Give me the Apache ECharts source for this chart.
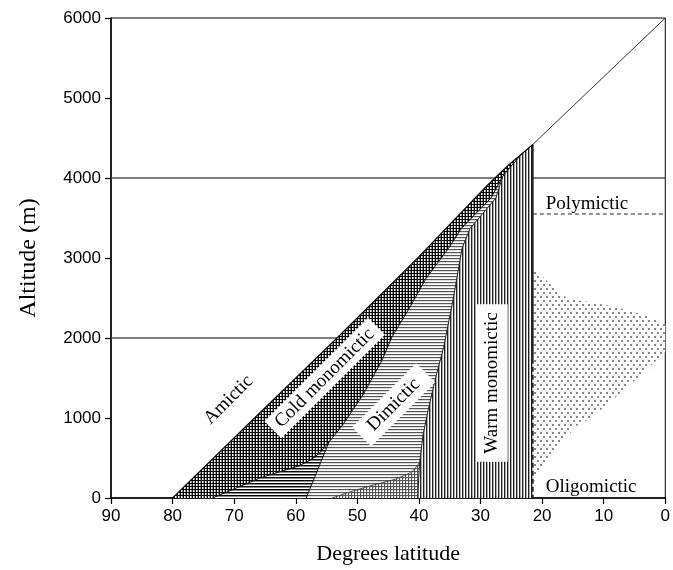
<!DOCTYPE html>
<html>
<head>
<meta charset="utf-8">
<script src="https://cdn.jsdelivr.net/npm/echarts@6/dist/echarts.min.js"></script>
<style>
  html, body { margin: 0; padding: 0; background: #fff; }
  #chart { width: 673px; height: 570px; }
</style>
</head>
<body>
<div id="chart"></div>
<script>
// ---- Zone boundaries, as [degrees latitude, altitude m] ----
// upper-left limit of lakes (latitude / altitude envelope)
const envelopeEdge = [[80, 0], [66.7, 1000], [53.3, 2000], [40.2, 3000], [34.6, 3450], [29.0, 3900], [25.5, 4160], [21.5, 4420]];
// cold monomictic / dimictic boundary
const coldDimicticEdge = [[58.3, 0], [54.6, 700], [52.5, 900], [49.0, 1300], [46.0, 1720], [44.4, 2010], [41.5, 2380], [38.8, 2750], [35.2, 3120], [33.1, 3370], [28.3, 3750], [26.6, 3990], [26.4, 4020], [25.0, 4150], [23.3, 4300], [21.5, 4420]];
// dimictic / warm monomictic boundary
const warmEdge = [[40.2, 0], [39.9, 440], [39.3, 800], [38.5, 1100], [37.3, 1500], [36.0, 1880], [34.4, 2500], [33.0, 3120], [31.7, 3370], [27.5, 3750], [26.4, 4020]];
// top of the low-altitude band under the cold zone
const lowerBandTop = [[73.5, 0], [69.5, 130], [65.9, 248], [62.5, 330], [59.5, 400], [57.5, 480], [56.2, 558], [54.6, 700]];
// top of the low-altitude patch under the dimictic zone
const gridPatchTop = [[54.1, 0], [51.0, 80], [48.0, 150], [43.8, 235], [41.2, 320], [39.9, 440]];
// oligomictic (stippled) zone outline
const oligoZone = [[21.5, 2880], [20.2, 2790], [18.6, 2665], [17.0, 2550], [15.4, 2480], [11.5, 2440], [7.8, 2380], [3.4, 2290], [0, 2170], [0, 1830], [2.5, 1640], [6.1, 1390], [8.5, 1230], [10.5, 1100], [12.5, 980], [14.7, 890], [15.5, 800], [17.5, 650], [19.6, 430], [21.0, 270], [21.5, 150]];

const tropicEdgeLat = 21.5;          // latitude of the vertical limit
const solidDashSplit = 1740;         // altitude where the vertical limit turns dashed
const polymicticLevel = 3550;        // dashed polymictic limit
const referenceLevels = [2000, 4000];
const topCorner = [0, 6000];

const zoneNames = ['Amictic', 'Cold monomictic', 'Dimictic', 'Warm monomictic', 'Polymictic', 'Oligomictic'];
const zoneNameAnchors = [[70.9, 1227], [55.3, 1500], [44.1, 1165], [28.1, 1438], [19.4, 3670], [19.4, 136]];
const zoneNameStyle = [
  { angle: 45, align: 'center', boxed: false },
  { angle: 45, align: 'center', boxed: true, pad: [3, 7, 2, 7] },
  { angle: 45, align: 'center', boxed: true, pad: [5, 12, 3, 12] },
  { angle: 90, align: 'center', boxed: true, pad: [7, 8, 5, 8] },
  { angle: 0, align: 'left', boxed: false },
  { angle: 0, align: 'left', boxed: false }
];

// ---- derived polygons ----
const peak = envelopeEdge[envelopeEdge.length - 1];
const sameP = (a, b) => a[0] === b[0] && a[1] === b[1];
const jIdx = coldDimicticEdge.findIndex(p => sameP(p, lowerBandTop[lowerBandTop.length - 1]));
const mIdx = coldDimicticEdge.findIndex(p => sameP(p, warmEdge[warmEdge.length - 1]));

const zoneA = [...envelopeEdge, ...coldDimicticEdge.slice(jIdx, -1).reverse(), ...lowerBandTop.slice(0, -1).reverse()];
const zoneC = [...lowerBandTop, ...coldDimicticEdge.slice(0, jIdx).reverse()];
const zoneD = [...coldDimicticEdge.slice(0, mIdx + 1), ...warmEdge.slice(1, -1).reverse(), ...gridPatchTop.slice(0, -1).reverse()];
const zoneE = [...gridPatchTop, warmEdge[0]];
const zoneW = [...warmEdge, ...coldDimicticEdge.slice(mIdx + 1), [tropicEdgeLat, 0]];

// ---- hatch patterns ----
function hatch(w, h, draw) {
  const c = document.createElement('canvas');
  c.width = w; c.height = h;
  const g = c.getContext('2d');
  g.fillStyle = '#fff'; g.fillRect(0, 0, w, h);
  draw(g);
  return { image: c, repeat: 'repeat' };
}
const crossDark = hatch(3, 3, g => {
  g.fillStyle = '#000'; g.fillRect(0, 0, 3, 1); g.fillRect(0, 0, 1, 3);
  g.fillStyle = '#999'; g.fillRect(2, 1, 1, 2);
});
const horizDark = hatch(4, 3, g => { g.fillStyle = '#000'; g.fillRect(0, 0, 4, 1); g.fillStyle = '#888'; g.fillRect(0, 1, 4, 1); });
const horizLight = hatch(4, 3, g => { g.fillStyle = '#555'; g.fillRect(0, 0, 4, 1); g.fillStyle = '#ddd'; g.fillRect(0, 1, 4, 1); });
const gridLight = hatch(3, 3, g => { g.fillStyle = '#555'; g.fillRect(0, 0, 3, 1); g.fillRect(0, 0, 1, 3); g.fillStyle = '#ccc'; g.fillRect(1, 1, 1, 1); });
const vertStripes = hatch(3, 4, g => { g.fillStyle = '#222'; g.fillRect(0, 0, 1, 4); g.fillStyle = '#aaa'; g.fillRect(1, 0, 1, 4); });
const stipple = hatch(6, 8, g => { g.fillStyle = '#888'; g.fillRect(0, 0, 2, 2); g.fillRect(3, 4, 2, 2); });

function areaSeries(name, pts, fill) {
  return {
    type: 'custom', name, silent: true, z: 2, clip: true,
    data: pts,
    renderItem(params, api) {
      if (params.dataIndex !== 0) return null;
      const points = pts.map((_, i) => api.coord([api.value(0, i), api.value(1, i)]));
      return { type: 'polygon', shape: { points }, style: { fill, stroke: null } };
    }
  };
}

function lineSeries(data, style, z) {
  return {
    type: 'line', data, silent: true, z: z || 3, symbol: 'none', showSymbol: false,
    lineStyle: Object.assign({ color: '#222', width: 1 }, style)
  };
}

const serif = '"Liberation Serif", "Times New Roman", serif';
const sans = '"Liberation Sans", Arial, sans-serif';
const plainNumber = v => String(v);

const chart = echarts.init(document.getElementById('chart'), null, { renderer: 'canvas' });
chart.setOption({
  animation: false,
  backgroundColor: '#fff',
  grid: { left: 111, right: 5, top: 18, bottom: 68, show: true, borderColor: '#000', borderWidth: 1, backgroundColor: 'transparent' },
  xAxis: {
    type: 'value', min: 0, max: 90, interval: 10, inverse: true,
    name: 'Degrees latitude', nameLocation: 'middle', nameGap: 45,
    nameTextStyle: { fontFamily: serif, fontSize: 22, color: '#000' },
    axisLine: { show: true, onZero: false, lineStyle: { color: '#000', width: 1.5 } },
    axisTick: { show: true, length: 6, lineStyle: { color: '#000', width: 1.2 } },
    axisLabel: { color: '#000', fontSize: 17, fontFamily: sans, margin: 10, formatter: plainNumber },
    splitLine: { show: false }
  },
  yAxis: {
    type: 'value', min: 0, max: 6000, interval: 1000,
    name: 'Altitude (m)', nameLocation: 'middle', nameGap: 70, nameRotate: 90,
    nameTextStyle: { fontFamily: serif, fontSize: 24, color: '#000' },
    axisLine: { show: true, onZero: false, lineStyle: { color: '#000', width: 1.5 } },
    axisTick: { show: true, length: 6, lineStyle: { color: '#000', width: 1.2 } },
    axisLabel: { color: '#000', fontSize: 17, fontFamily: sans, margin: 10, formatter: plainNumber },
    splitLine: { show: false }
  },
  series: [
    // reference altitudes
    ...referenceLevels.map(v => lineSeries([[90, v], [0, v]], { color: '#555', width: 1.5 }, 1)),
    // zones
    areaSeries('cold', zoneA, crossDark),
    areaSeries('cold low', zoneC, horizDark),
    areaSeries('dimictic', zoneD, horizLight),
    areaSeries('dimictic low', zoneE, gridLight),
    areaSeries('warm', zoneW, vertStripes),
    areaSeries('oligomictic', oligoZone, stipple),
    // zone outlines
    lineSeries(envelopeEdge, { color: '#111', width: 1.2 }),
    lineSeries(coldDimicticEdge, { color: '#111', width: 1 }),
    lineSeries(warmEdge, { color: '#222', width: 1 }),
    lineSeries(lowerBandTop, { color: '#111', width: 1 }),
    lineSeries(gridPatchTop, { color: '#333', width: 0.8 }),
    lineSeries([peak, [tropicEdgeLat, solidDashSplit]], { color: '#111', width: 1.5 }),
    lineSeries([[tropicEdgeLat, solidDashSplit], [tropicEdgeLat, 0]], { color: '#111', width: 1.5, type: [5, 3] }),
    lineSeries([[tropicEdgeLat, polymicticLevel], [0, polymicticLevel]], { color: '#222', width: 1.2, type: [4, 3] }),
    lineSeries([peak, topCorner], { color: '#333', width: 1 }),
    // zone names
    {
      type: 'custom', silent: true, z: 5, clip: false,
      data: zoneNameAnchors,
      renderItem(params, api) {
        const i = params.dataIndex;
        const s = zoneNameStyle[i];
        const p = api.coord([api.value(0), api.value(1)]);
        return {
          type: 'text', x: p[0], y: p[1], rotation: s.angle * Math.PI / 180,
          style: {
            text: zoneNames[i], font: '19px ' + serif, fill: '#000',
            align: s.align, verticalAlign: 'middle',
            backgroundColor: s.boxed ? '#fff' : null,
            padding: s.boxed ? s.pad : 0
          }
        };
      }
    }
  ]
});
</script>
</body>
</html>
